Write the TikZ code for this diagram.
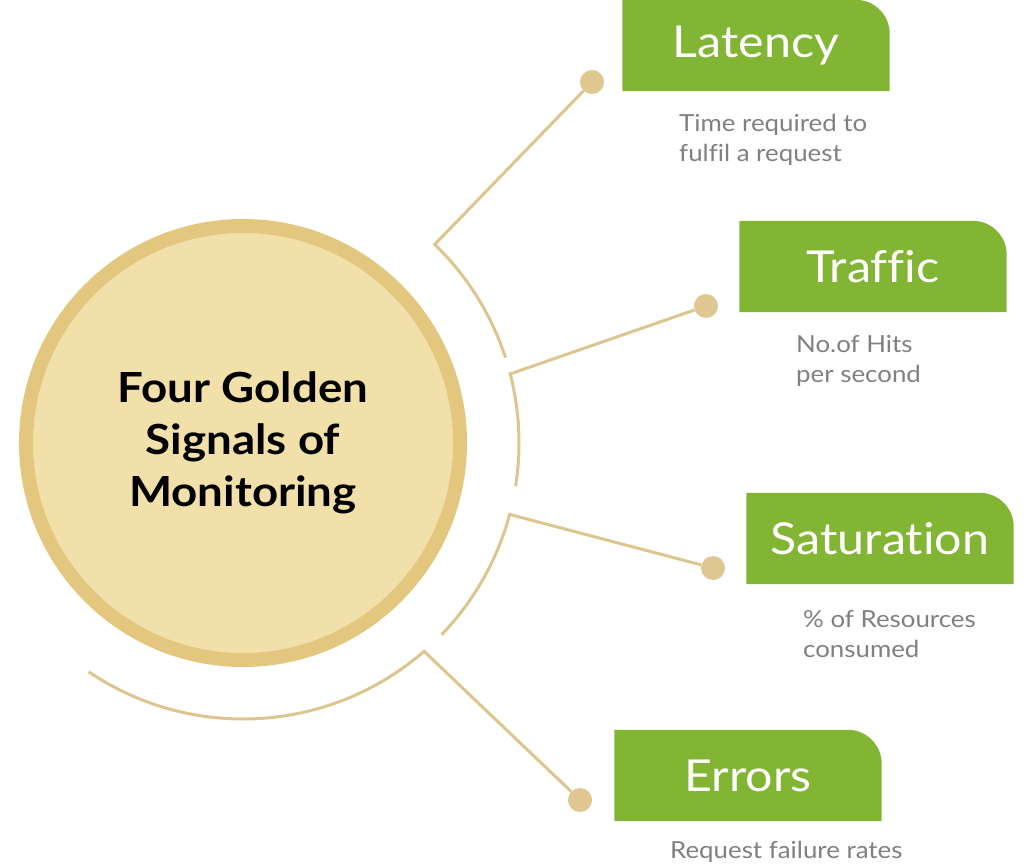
\documentclass[tikz,border=0pt]{standalone}
\usepackage{fontspec}
\setmainfont{Lato}[FakeStretch=1.1,Ligatures=NoCommon]
\usetikzlibrary{backgrounds}
\definecolor{ringc}{HTML}{E4C77E}
\definecolor{fillc}{HTML}{F2E0AB}
\definecolor{linec}{HTML}{DDC68E}
\definecolor{dotc}{HTML}{DEC791}
\definecolor{greenc}{HTML}{83B535}
\definecolor{grayc}{HTML}{808080}
\newcommand\greenshape[1]{\fill[greenc] (#1.south west) -- (#1.north west) -- ([xshift=-34pt]#1.north east) arc[start angle=90,end angle=0,radius=34pt] -- (#1.south east) -- cycle;}
\begin{document}
\begin{tikzpicture}[x=1pt,y=1pt,
 conn/.style={draw=linec,line width=3pt},
 dotnode/.style={circle,fill=dotc,minimum size=24pt,inner sep=0pt},
 greenbox/.style={minimum width=267pt,minimum height=91pt,inner sep=0pt,text=white,font=\fontsize{44}{50}\selectfont},
 desc/.style={anchor=north west,align=left,inner sep=0pt,text=grayc,font=\fontsize{23.5}{30}\selectfont}]
\useasboundingbox (0,0) rectangle (1024,-864);
\coordinate (C) at (243,-443);
% hub
\node[circle,fill=fillc,draw=ringc,line width=14pt,minimum size=434pt,inner sep=0pt,align=center,font=\bfseries\fontsize{41.5}{52}\selectfont] (hub) at (C) {Four Golden\\Signals of\\Monitoring};
% junctions on the outer ring
\path (C) ++(46:276pt) coordinate (jL);
\path (C) ++(14.5:276pt) coordinate (jT);
\path (C) ++(-15:276pt) coordinate (jS);
\path (C) ++(-49:276pt) coordinate (jE);
% dots
\node[dotnode] (dL) at (592,-82) {};
\node[dotnode] (dT) at (706,-306) {};
\node[dotnode] (dS) at (713,-568) {};
\node[dotnode] (dE) at (580,-800) {};
% connectors with ring arcs
\draw[conn] (dL) -- (jL) arc[start angle=46,end angle=18,radius=276pt];
\draw[conn] (dT) -- (jT) arc[start angle=14.5,end angle=-9,radius=276pt];
\draw[conn] (dS) -- (jS) arc[start angle=-15,end angle=-44,radius=276pt];
\draw[conn] (dE) -- (jE) arc[start angle=-49,end angle=-124,radius=276pt];
% boxes
\node[greenbox] (lat) at (756,-45.5) {Latency};
\node[greenbox] (tra) at (873,-266.5) {Traffic};
\node[greenbox] (sat) at (880,-538.5) {Saturation};
\node[greenbox] (err) at (748,-775.5) {Errors};
\begin{scope}[on background layer]
\greenshape{lat}
\greenshape{tra}
\greenshape{sat}
\greenshape{err}
\end{scope}
% descriptions
\node[desc] (latd) at (679,-114) {Time required to\\fulfil a request};
\node[desc] (trad) at (796,-335) {No.of Hits\\per second};
\node[desc] (satd) at (803,-610) {\% of Resources\\consumed};
\node[desc] (errd) at (670,-841) {Request failure rates};
\end{tikzpicture}
\end{document}
